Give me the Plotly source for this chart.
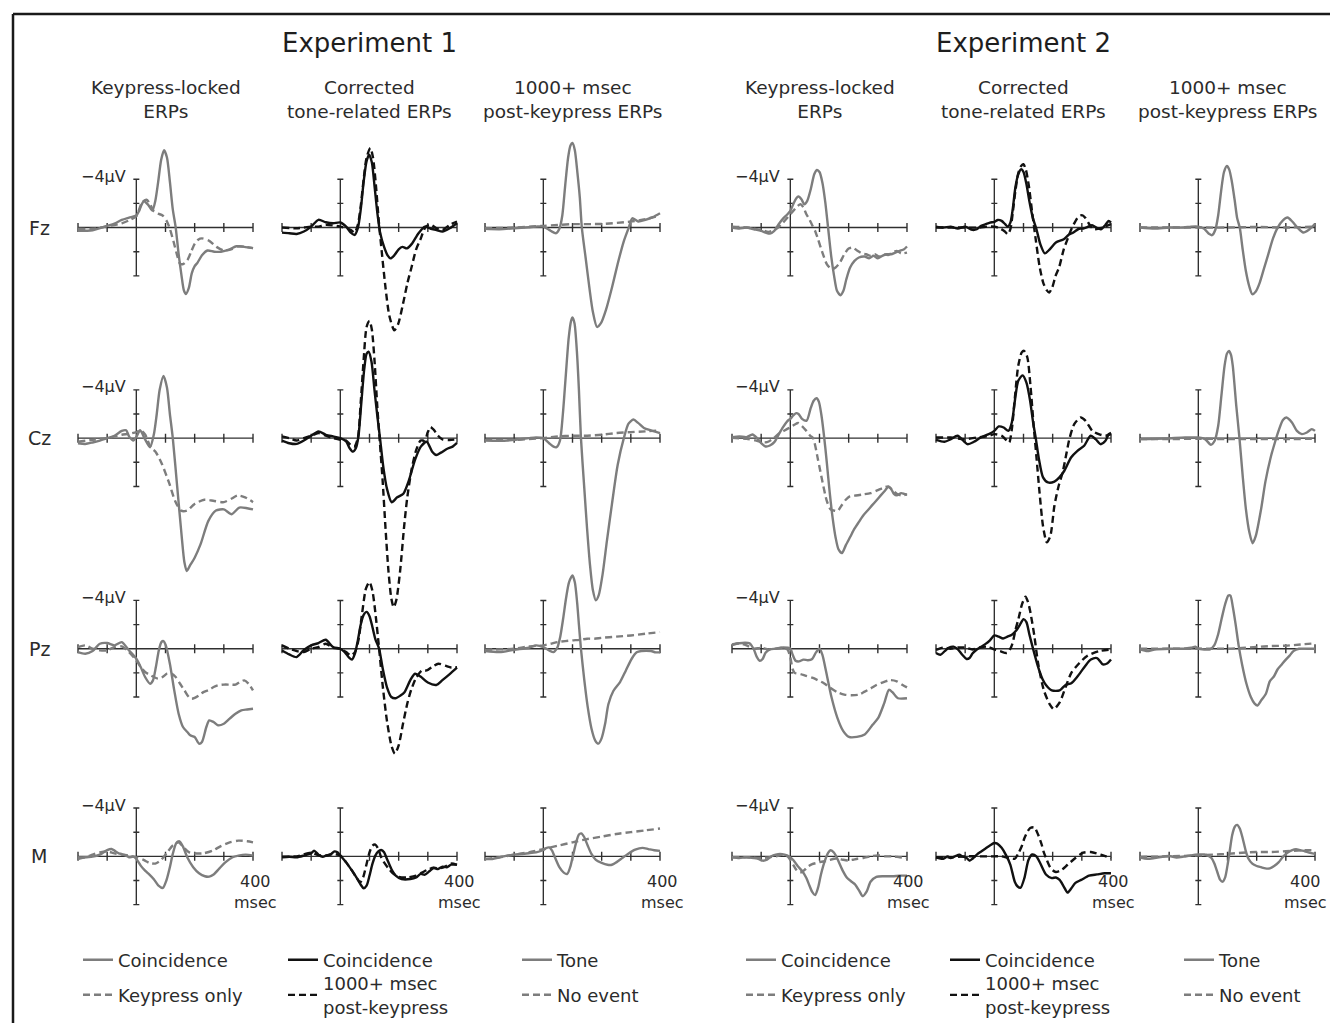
import plotly.graph_objects as go

# ---------------- data: (msec, microvolts); negative is plotted upward ----------------
# Experiment 1 - keypress-locked ERPs
E1_KEY_FZ_COIN = [(-200,0.27),(-150,0.22),(-100,-0.14),(-75,-0.33),(-50,-0.63),(-25,-0.82),(0,-1.0),(10,-1.4),(18,-1.9),(26,-2.18),(40,-1.9),(55,-1.41),(65,-2.2),(75,-3.8),(85,-5.6),(95,-6.4),(105,-5.8),(115,-3.8),(125,-1.5),(135,0.0),(145,2.2),(155,4.0),(163,5.2),(170,5.5),(180,5.0),(190,3.8),(200,3.2),(210,2.9),(225,2.3),(244,1.9),(267,2.0),(290,2.0),(320,1.8),(343,1.55),(370,1.6),(400,1.7)]
E1_KEY_FZ_KEY = [(-200,0.1),(-150,0.1),(-100,-0.1),(-50,-0.35),(-25,-0.6),(0,-0.95),(20,-2.1),(35,-2.3),(48,-1.9),(60,-1.35),(75,-1.15),(90,-1.0),(105,-0.5),(115,0.1),(128,1.2),(140,2.3),(150,3.0),(162,3.0),(175,2.7),(188,2.0),(200,1.35),(212,1.0),(225,0.9),(250,1.1),(275,1.6),(300,1.9),(325,1.8),(350,1.55),(375,1.6),(400,1.7)]
E1_KEY_CZ_COIN = [(-200,0.42),(-175,0.48),(-150,0.36),(-125,0.2),(-100,0.0),(-75,-0.2),(-50,-0.6),(-35,-0.65),(-25,-0.15),(-10,0.2),(0,-0.1),(13,-0.65),(30,0.1),(47,0.75),(60,-0.3),(70,-2.0),(80,-4.0),(93,-5.15),(105,-4.2),(115,-2.0),(125,0.0),(140,4.0),(155,8.0),(165,10.3),(173,11.0),(185,10.5),(200,9.9),(220,8.8),(247,6.85),(273,6.0),(300,5.9),(327,6.3),(353,5.75),(380,5.8),(400,5.9)]
E1_KEY_CZ_KEY = [(-200,0.3),(-150,0.14),(-100,0.0),(-75,-0.14),(-50,-0.28),(-25,-0.36),(0,-0.5),(15,-0.65),(30,-0.3),(50,0.8),(65,1.1),(87,2.1),(113,3.75),(133,5.2),(153,6.0),(173,6.0),(200,5.45),(233,5.1),(267,5.2),(300,5.3),(327,5.0),(347,4.75),(373,4.9),(400,5.3)]
E1_KEY_PZ_COIN = [(-200,0.28),(-175,0.41),(-150,0.19),(-125,-0.41),(-100,-0.47),(-75,-0.28),(-50,-0.55),(-25,0.14),(0,0.83),(15,1.52),(30,2.34),(47,2.9),(57,2.62),(67,1.52),(77,0.14),(86,-0.55),(93,-0.63),(101,-0.28),(115,1.24),(130,3.45),(145,5.38),(160,6.48),(175,6.9),(185,7.17),(200,7.31),(215,7.86),(225,7.72),(240,6.48),(250,5.93),(265,6.07),(280,6.34),(300,6.21),(320,5.79),(340,5.38),(360,5.1),(380,5.03),(400,4.97)]
E1_KEY_PZ_KEY = [(-200,-0.14),(-175,-0.28),(-150,0.0),(-125,0.14),(-100,0.14),(-75,-0.14),(-50,-0.19),(-25,0.28),(0,0.97),(15,1.52),(30,1.93),(45,2.14),(60,2.34),(75,2.48),(90,2.34),(105,2.07),(120,2.07),(135,2.34),(150,2.9),(165,3.45),(180,4.0),(190,4.14),(200,4.07),(215,3.86),(230,3.59),(250,3.4),(265,3.17),(280,3.03),(300,2.97),(320,2.97),(340,2.97),(355,2.76),(370,2.62),(385,2.9),(400,3.45)]
E1_KEY_M_COIN = [(-200,0.22),(-175,0.08),(-150,0.03),(-125,-0.14),(-100,-0.52),(-85,-0.61),(-75,-0.47),(-60,-0.25),(-50,-0.19),(-35,-0.06),(-25,0.08),(-10,0.03),(0,0.22),(15,0.77),(30,1.19),(45,1.52),(60,1.9),(75,2.4),(91,2.62),(103,2.0),(115,0.9),(125,-0.2),(137,-1.1),(148,-1.24),(160,-0.8),(175,0.1),(195,0.9),(215,1.4),(235,1.65),(250,1.68),(265,1.5),(285,1.0),(305,0.5),(330,0.08),(350,-0.06),(375,-0.14),(400,-0.06)]
E1_KEY_M_KEY = [(-200,0.08),(-175,0.08),(-150,-0.14),(-125,-0.33),(-100,-0.41),(-75,-0.25),(-50,-0.14),(-25,-0.06),(0,0.08),(25,0.3),(45,0.55),(65,0.6),(85,0.3),(105,-0.3),(125,-0.9),(145,-1.16),(160,-0.8),(180,-0.35),(200,-0.25),(230,-0.25),(260,-0.45),(290,-0.85),(320,-1.15),(350,-1.3),(380,-1.25),(400,-1.16)]

# Experiment 1 - corrected tone-related ERPs
E1_COR_FZ_COIN = [(-200,0.42),(-175,0.47),(-150,0.53),(-125,0.33),(-100,-0.08),(-75,-0.64),(-50,-0.44),(-25,-0.36),(0,-0.42),(20,-0.08),(35,0.4),(49,0.61),(60,0.05),(70,-1.5),(80,-3.8),(90,-5.5),(99,-6.04),(108,-5.4),(117,-3.5),(127,-1.2),(137,0.5),(150,1.6),(162,2.3),(172,2.55),(185,2.3),(200,1.8),(213,1.6),(228,1.72),(245,1.35),(268,0.47),(290,-0.08),(310,0.1),(330,0.2),(350,0.33),(375,0.06),(400,-0.36)]
E1_COR_FZ_POST = [(-200,0.0),(-150,0.06),(-100,-0.08),(-75,-0.08),(-50,-0.22),(0,-0.08),(35,0.19),(49,0.42),(60,-0.22),(70,-1.8),(80,-4.0),(90,-5.8),(103,-6.59),(112,-5.8),(122,-3.5),(132,-0.5),(142,2.0),(155,5.0),(168,7.3),(185,8.5),(198,8.0),(215,6.3),(230,4.6),(245,3.2),(260,1.8),(274,1.02),(293,-0.08),(310,-0.22),(330,0.06),(350,0.19),(375,-0.22),(400,-0.5)]
E1_COR_CZ_COIN = [(-200,0.2),(-175,0.42),(-150,0.48),(-125,0.2),(-100,-0.2),(-75,-0.56),(-50,-0.28),(-25,-0.14),(0,0.0),(20,0.28),(32,0.84),(43,1.12),(53,0.84),(62,-0.14),(72,-2.94),(82,-5.73),(90,-6.99),(97,-7.16),(107,-6.3),(117,-4.0),(127,-1.8),(136,0.0),(148,2.5),(160,4.2),(176,5.31),(195,4.9),(216,4.6),(235,3.5),(256,1.8),(276,0.7),(296,0.3),(315,1.12),(329,1.4),(345,1.2),(365,0.9),(385,0.7),(400,0.4)]
E1_COR_CZ_POST = [(-200,-0.14),(-175,0.0),(-150,0.2),(-125,0.0),(-100,-0.2),(-75,-0.42),(-50,-0.2),(-25,0.0),(0,0.14),(20,0.2),(35,0.56),(48,0.7),(60,0.0),(70,-3.0),(80,-6.5),(90,-9.2),(100,-9.71),(108,-9.0),(117,-6.5),(127,-2.5),(136,0.5),(145,3.5),(155,7.5),(165,11.0),(175,13.3),(183,14.0),(192,13.4),(205,11.0),(218,7.5),(229,5.0),(245,2.5),(260,1.0),(275,0.2),(289,0.2),(300,-0.5),(309,-0.92),(320,-0.7),(335,-0.2),(350,0.1),(375,0.15),(400,0.1)]
E1_COR_PZ_COIN = [(-200,0.14),(-175,0.47),(-150,0.69),(-125,0.1),(-100,-0.28),(-75,-0.47),(-50,-0.74),(-25,-0.14),(0,0.0),(15,0.28),(30,0.74),(40,0.9),(50,0.41),(60,-0.69),(70,-2.0),(80,-2.8),(90,-3.05),(100,-2.7),(110,-1.8),(120,-0.8),(133,0.0),(145,1.6),(160,3.2),(175,4.0),(190,4.1),(205,3.9),(220,3.6),(240,2.6),(256,2.07),(275,2.3),(300,2.8),(329,3.0),(350,2.6),(375,2.1),(400,1.57)]
E1_COR_PZ_POST = [(-200,-0.28),(-175,0.0),(-150,0.19),(-125,0.28),(-100,0.0),(-75,-0.14),(-50,-0.41),(-25,-0.08),(0,0.0),(20,0.28),(35,0.55),(50,0.28),(62,-0.7),(75,-3.0),(88,-5.0),(100,-5.52),(110,-4.8),(120,-3.0),(133,0.0),(145,3.0),(160,6.0),(175,8.0),(187,8.69),(200,8.0),(215,6.2),(230,4.5),(243,3.4),(260,2.4),(280,1.8),(296,1.8),(315,1.5),(336,1.24),(360,1.4),(380,1.55),(400,1.52)]
E1_COR_M_COIN = [(-200,0.08),(-175,0.03),(-150,0.08),(-125,-0.06),(-100,-0.25),(-90,-0.47),(-75,-0.14),(-60,0.03),(-50,-0.06),(-35,-0.14),(-20,-0.41),(-10,-0.33),(0,-0.06),(20,0.5),(40,1.19),(55,1.74),(70,2.35),(80,2.65),(90,2.43),(100,1.6),(110,0.63),(120,-0.06),(130,-0.41),(140,-0.52),(150,-0.33),(160,0.22),(175,1.05),(190,1.6),(210,1.88),(240,1.88),(260,1.74),(275,1.46),(290,1.52),(305,1.24),(320,0.97),(335,1.05),(350,0.85),(365,0.91),(380,0.69),(400,0.69)]
E1_COR_M_POST = [(-200,0.03),(-150,0.0),(-100,-0.3),(-75,-0.1),(-50,-0.06),(-25,-0.2),(0,-0.06),(20,0.5),(40,1.19),(55,1.74),(68,2.15),(78,1.74),(90,0.63),(100,-0.33),(110,-0.88),(120,-0.97),(130,-0.61),(140,0.08),(150,0.5),(165,1.0),(180,1.4),(200,1.7),(230,1.75),(260,1.6),(280,1.35),(300,1.1),(320,0.95),(340,1.0),(360,0.85),(380,0.6),(400,0.7)]

# Experiment 1 - 1000+ msec post-keypress ERPs
E1_POST_FZ_TONE = [(-200,0.11),(-150,0.14),(-100,0.06),(-50,-0.03),(-25,-0.08),(0,-0.08),(20,0.19),(35,0.4),(44,0.47),(55,0.1),(65,-1.0),(75,-3.5),(85,-5.8),(93,-6.8),(100,-7.0),(108,-6.4),(117,-4.5),(125,-2.5),(132,0.0),(145,2.5),(158,5.0),(170,7.0),(184,8.23),(198,7.9),(215,6.8),(235,5.0),(255,3.0),(275,1.2),(293,0.0),(305,-0.77),(325,-0.5),(350,-0.64),(375,-0.86),(400,-1.19)]
E1_POST_FZ_NOEV = [(-200,0.06),(-100,0.0),(0,-0.14),(100,-0.28),(200,-0.3),(300,-0.5),(350,-0.7),(400,-1.0)]
E1_POST_CZ_TONE = [(-200,0.2),(-150,0.22),(-100,0.14),(-50,0.0),(-25,-0.06),(0,0.0),(20,0.42),(35,0.7),(45,0.75),(57,0.2),(67,-2.0),(77,-5.2),(87,-8.3),(95,-9.7),(100,-9.99),(107,-9.5),(115,-7.2),(122,-4.0),(129,0.0),(140,4.0),(150,7.5),(160,10.5),(170,12.6),(180,13.43),(190,13.0),(203,11.3),(218,8.5),(235,5.5),(255,2.2),(276,0.0),(292,-1.2),(309,-1.54),(325,-1.26),(345,-0.84),(369,-0.64),(400,-0.42)]
E1_POST_CZ_NOEV = [(-200,0.14),(-100,0.14),(0,0.0),(50,-0.14),(100,-0.2),(150,-0.2),(200,-0.28),(250,-0.42),(300,-0.5),(350,-0.56),(400,-0.65)]
E1_POST_PZ_TONE = [(-200,0.19),(-150,0.28),(-100,0.08),(-50,-0.08),(-25,-0.28),(0,-0.14),(20,0.14),(35,0.28),(48,-0.1),(58,-1.0),(68,-2.5),(78,-4.2),(88,-5.5),(100,-6.07),(108,-5.5),(116,-3.8),(122,-2.0),(129,0.0),(140,2.5),(152,4.8),(165,6.6),(178,7.6),(189,7.86),(200,7.4),(212,6.2),(223,4.6),(240,3.5),(263,2.76),(283,1.8),(303,0.83),(320,0.3),(336,0.19),(369,0.19),(385,0.3),(400,0.3)]
E1_POST_PZ_NOEV = [(-200,0.08),(-100,0.0),(-50,-0.19),(0,-0.28),(25,-0.41),(50,-0.55),(75,-0.63),(100,-0.69),(125,-0.74),(150,-0.83),(175,-0.83),(200,-0.9),(250,-1.0),(300,-1.1),(350,-1.24),(400,-1.38)]
E1_POST_M_TONE = [(-200,0.22),(-175,0.22),(-150,0.08),(-125,-0.06),(-100,-0.14),(-75,-0.19),(-50,-0.25),(-25,-0.33),(0,-0.52),(10,-0.69),(20,-0.74),(30,-0.47),(40,0.1),(55,0.9),(70,1.35),(82,1.46),(92,0.9),(102,-0.1),(112,-1.1),(122,-1.8),(130,-1.9),(140,-1.6),(152,-0.9),(165,-0.2),(180,0.3),(200,0.55),(220,0.7),(235,0.7),(250,0.5),(270,0.15),(290,-0.2),(315,-0.55),(340,-0.7),(360,-0.6),(380,-0.5),(400,-0.45)]
E1_POST_M_NOEV = [(-200,0.22),(-150,0.08),(-100,-0.14),(-50,-0.33),(0,-0.6),(50,-0.88),(100,-1.16),(150,-1.43),(200,-1.63),(250,-1.85),(300,-2.0),(350,-2.15),(400,-2.3)]

# Experiment 2 - keypress-locked ERPs
E2_KEY_FZ_COIN = [(-200,0.0),(-175,0.08),(-150,0.0),(-125,0.14),(-100,0.28),(-85,0.41),(-70,0.5),(-55,0.28),(-40,-0.28),(-25,-0.74),(-10,-1.1),(0,-1.38),(10,-1.93),(20,-2.41),(28,-2.57),(38,-2.34),(48,-1.93),(58,-2.21),(70,-3.17),(82,-4.41),(91,-4.77),(100,-4.6),(110,-3.72),(120,-2.07),(130,0.14),(140,2.34),(150,4.0),(160,5.24),(172,5.6),(182,5.24),(192,4.28),(205,3.31),(220,2.76),(235,2.48),(255,2.4),(270,2.55),(285,2.34),(300,2.55),(315,2.34),(330,2.21),(345,2.21),(360,2.07),(375,1.93),(390,1.79),(400,1.57)]
E2_KEY_FZ_KEY = [(-200,-0.08),(-150,0.0),(-100,0.19),(-75,0.36),(-50,0.14),(-25,-0.41),(0,-1.1),(15,-1.52),(25,-1.79),(35,-1.93),(45,-1.66),(55,-1.1),(65,-0.69),(75,-0.19),(85,0.28),(95,0.97),(110,2.07),(125,3.03),(135,3.31),(145,3.45),(155,3.31),(170,2.9),(185,2.21),(200,1.74),(215,1.66),(230,1.93),(245,2.14),(260,2.21),(275,2.34),(290,2.21),(305,2.41),(320,2.21),(335,2.28),(350,2.07),(365,1.93),(380,2.14),(400,2.07)]
E2_KEY_CZ_COIN = [(-200,-0.08),(-175,-0.14),(-150,-0.08),(-130,-0.3),(-115,-0.03),(-100,0.41),(-85,0.69),(-70,0.61),(-55,0.33),(-40,-0.3),(-25,-0.91),(-10,-1.41),(0,-1.6),(10,-1.88),(20,-2.07),(28,-2.0),(40,-1.6),(56,-1.45),(70,-2.5),(80,-3.1),(90,-3.3),(98,-3.0),(106,-2.0),(115,-0.3),(125,2.0),(135,4.5),(145,6.6),(155,8.2),(165,9.2),(177,9.52),(190,8.88),(205,8.19),(220,7.5),(235,6.94),(250,6.4),(265,5.99),(280,5.57),(295,5.16),(310,4.74),(325,4.33),(335,4.05),(345,4.19),(355,4.61),(365,4.74),(380,4.55),(390,4.61),(400,4.69)]
E2_KEY_CZ_KEY = [(-200,-0.03),(-150,0.06),(-120,0.19),(-100,0.33),(-80,0.33),(-60,0.06),(-40,-0.36),(-20,-0.63),(0,-0.91),(15,-1.13),(27,-1.25),(40,-1.0),(55,-0.6),(68,-0.2),(78,0.0),(95,1.8),(110,3.6),(125,5.2),(138,5.9),(150,6.0),(162,6.04),(175,5.6),(190,5.1),(205,4.8),(225,4.75),(250,4.66),(275,4.55),(300,4.3),(320,4.1),(336,4.0),(350,4.3),(365,4.6),(380,4.74),(400,4.66)]
E2_KEY_PZ_COIN = [(-200,-0.3),(-175,-0.45),(-155,-0.5),(-140,-0.45),(-125,0.06),(-115,0.68),(-105,1.0),(-95,0.85),(-85,0.34),(-70,0.06),(-50,0.0),(-25,-0.1),(0,0.0),(8,0.5),(18,1.0),(30,1.05),(45,0.9),(60,0.95),(75,0.85),(88,0.3),(100,0.0),(110,0.5),(121,1.7),(141,4.0),(161,5.7),(181,6.8),(201,7.3),(228,7.3),(255,7.1),(282,6.3),(302,5.7),(322,4.5),(338,3.4),(350,3.6),(369,4.1),(400,4.1)]
E2_KEY_PZ_KEY = [(-200,-0.35),(-175,-0.45),(-150,-0.28),(-125,0.0),(-100,-0.08),(-75,0.06),(-50,0.0),(-25,-0.08),(-10,0.06),(0,0.7),(8,1.7),(15,2.0),(35,2.1),(54,2.25),(75,2.4),(94,2.6),(115,2.85),(135,3.2),(161,3.6),(185,3.8),(210,3.85),(235,3.8),(255,3.55),(275,3.3),(295,3.0),(315,2.8),(342,2.6),(365,2.7),(385,3.0),(400,3.2)]
E2_KEY_M_COIN = [(-200,0.08),(-175,0.14),(-150,0.08),(-125,0.14),(-110,0.2),(-95,0.36),(-80,0.28),(-65,0.0),(-50,-0.14),(-35,-0.2),(-20,-0.14),(-5,0.0),(10,0.3),(25,0.8),(40,1.2),(55,1.8),(65,2.4),(75,2.95),(85,3.2),(95,2.6),(105,1.5),(118,0.4),(130,-0.3),(138,-0.5),(150,-0.3),(165,0.4),(180,1.2),(195,1.8),(210,2.1),(221,2.3),(235,2.8),(248,3.3),(262,2.9),(275,2.1),(295,1.7),(320,1.65),(350,1.65),(375,1.6),(400,1.6)]
E2_KEY_M_KEY = [(-200,0.08),(-150,0.08),(-100,0.14),(-50,0.0),(-25,-0.14),(-10,0.0),(0,0.3),(10,0.7),(20,1.1),(30,1.3),(40,1.3),(50,1.1),(60,0.85),(75,0.65),(90,0.55),(105,0.45),(120,0.4),(135,0.3),(150,0.2),(165,0.2),(180,0.28),(200,0.35),(215,0.28),(230,0.2),(250,0.14),(275,0.0),(300,-0.08),(325,0.0),(350,0.0),(375,0.08),(400,0.14)]

# Experiment 2 - corrected tone-related ERPs
E2_COR_FZ_COIN = [(-200,-0.08),(-175,0.0),(-150,-0.08),(-125,0.08),(-100,-0.08),(-75,0.19),(-60,0.14),(-45,-0.14),(-30,-0.28),(-15,-0.41),(0,-0.47),(12,-0.63),(25,-0.55),(37,-0.28),(46,-0.08),(55,-0.41),(63,-1.5),(72,-3.3),(82,-4.4),(92,-4.83),(100,-4.6),(110,-3.6),(120,-2.2),(132,-0.8),(144,0.1),(158,1.4),(173,2.14),(190,1.8),(211,1.24),(238,0.97),(255,0.6),(271,0.41),(290,0.1),(305,0.08),(320,-0.05),(335,-0.19),(350,0.0),(365,0.14),(380,-0.19),(392,-0.55),(400,-0.41)]
E2_COR_FZ_POST = [(-200,0.0),(-150,0.0),(-100,0.0),(-50,0.0),(-25,-0.08),(0,-0.08),(20,0.08),(35,0.3),(46,0.55),(55,0.14),(63,-1.2),(72,-3.0),(82,-4.5),(92,-5.1),(100,-5.24),(108,-4.8),(118,-3.5),(130,-1.2),(142,1.0),(155,3.2),(168,4.6),(180,5.2),(188,5.38),(198,5.0),(210,4.0),(222,3.3),(238,1.8),(252,0.9),(264,0.14),(285,-0.8),(300,-1.03),(312,-0.8),(325,-0.3),(340,0.14),(360,0.08),(380,-0.08),(400,-0.28)]
E2_COR_CZ_COIN = [(-200,0.14),(-171,0.3),(-149,0.08),(-126,-0.2),(-92,0.5),(-70,0.3),(-47,-0.05),(-19,-0.33),(0,-0.6),(15,-0.97),(32,-0.88),(48,-0.6),(60,-1.3),(71,-3.2),(82,-4.75),(97,-5.2),(110,-4.6),(122,-3.2),(133,-1.3),(142,0.0),(153,1.74),(167,3.25),(184,3.67),(206,3.6),(223,3.25),(240,2.7),(263,1.6),(285,1.05),(308,0.63),(330,-0.2),(347,0.08),(364,0.5),(381,0.22),(392,-0.33),(400,-0.45)]
E2_COR_CZ_POST = [(-200,-0.05),(-149,-0.05),(-104,0.08),(-59,-0.05),(-19,-0.19),(0,-0.33),(26,-0.19),(43,0.22),(51,0.36),(60,-0.75),(71,-3.5),(82,-6.0),(94,-7.1),(102,-7.23),(113,-6.7),(124,-4.3),(135,-1.0),(144,1.46),(155,4.5),(167,7.3),(180,8.63),(192,8.1),(206,5.6),(220,4.0),(234,2.84),(247,1.3),(257,0.1),(274,-1.16),(296,-1.71),(313,-1.43),(336,-0.6),(358,-0.33),(381,-0.2),(400,-0.33)]
E2_COR_PZ_COIN = [(-200,0.35),(-185,0.5),(-170,0.2),(-155,-0.1),(-140,-0.17),(-125,0.05),(-110,0.5),(-95,0.85),(-85,0.77),(-75,0.4),(-60,0.06),(-45,-0.17),(-30,-0.4),(-15,-0.7),(0,-1.1),(15,-1.0),(30,-0.85),(45,-1.0),(60,-1.15),(75,-1.5),(88,-2.0),(100,-2.45),(110,-2.2),(120,-1.2),(135,0.2),(150,1.5),(165,2.5),(177,3.0),(197,3.45),(224,3.45),(244,3.0),(264,2.85),(285,2.3),(311,1.45),(331,0.9),(352,0.77),(372,1.3),(388,1.2),(400,0.9)]
E2_COR_PZ_POST = [(-200,0.1),(-175,-0.1),(-150,0.0),(-125,-0.1),(-100,-0.1),(-75,0.06),(-50,-0.1),(-25,-0.17),(0,0.06),(20,0.2),(43,0.35),(55,0.0),(63,-0.5),(73,-1.6),(83,-2.5),(95,-3.7),(107,-4.3),(115,-3.9),(123,-3.1),(137,-1.1),(150,1.2),(170,3.46),(190,4.6),(204,5.0),(224,4.45),(244,3.2),(264,2.0),(291,1.2),(318,0.6),(358,0.2),(400,0.06)]
E2_COR_M_COIN = [(-200,0.08),(-175,0.2),(-160,0.0),(-150,0.14),(-135,0.0),(-120,-0.14),(-110,0.0),(-95,0.14),(-85,0.36),(-75,0.2),(-60,-0.14),(-45,-0.4),(-30,-0.65),(-15,-0.9),(0,-1.1),(10,-1.05),(25,-0.7),(40,-0.1),(55,0.7),(70,2.1),(80,2.5),(90,2.6),(103,1.8),(117,0.3),(130,-0.15),(144,0.0),(157,0.55),(177,1.5),(197,1.8),(211,1.75),(224,1.95),(238,2.5),(251,3.0),(264,2.65),(278,2.2),(298,1.95),(325,1.6),(352,1.5),(378,1.4),(400,1.4)]
E2_COR_M_POST = [(-200,0.08),(-150,0.08),(-100,0.0),(-50,0.0),(0,0.0),(25,0.0),(50,0.14),(70,0.2),(83,-0.28),(95,-0.9),(103,-1.5),(115,-2.1),(123,-2.35),(137,-2.4),(150,-1.8),(162,-1.0),(170,-0.3),(180,0.3),(190,0.85),(200,1.15),(211,1.3),(231,1.12),(251,0.7),(278,0.14),(305,-0.3),(331,-0.36),(365,-0.14),(400,0.14)]

# Experiment 2 - 1000+ msec post-keypress ERPs
E2_POST_FZ_TONE = [(-200,0.0),(-150,0.08),(-100,0.0),(-50,0.0),(-25,-0.08),(0,-0.08),(20,0.1),(35,0.5),(47,0.63),(58,0.2),(68,-1.0),(78,-3.0),(88,-4.6),(98,-5.1),(106,-4.8),(115,-3.8),(125,-2.2),(133,-0.8),(142,0.0),(152,1.8),(163,3.6),(175,4.9),(185,5.52),(197,5.3),(210,4.6),(225,3.4),(240,2.2),(256,0.9),(272,0.0),(290,-0.6),(306,-0.83),(322,-0.5),(340,0.0),(360,0.41),(378,0.2),(392,-0.1),(400,-0.3)]
E2_POST_FZ_NOEV = [(-200,0.0),(-100,0.0),(0,0.0),(100,0.0),(200,-0.05),(300,0.0),(400,-0.08)]
E2_POST_CZ_TONE = [(-200,0.08),(-113,0.03),(-45,-0.05),(0,-0.05),(23,0.08),(43,0.55),(56,0.22),(68,-1.0),(79,-3.5),(90,-6.0),(98,-7.0),(105,-7.23),(112,-6.9),(118,-6.0),(130,-2.7),(141,0.0),(152,3.1),(163,5.85),(175,7.8),(186,8.7),(197,8.1),(215,5.9),(230,3.6),(248,1.6),(262,0.4),(275,-0.6),(290,-1.5),(302,-1.71),(321,-1.3),(338,-0.6),(355,-0.33),(372,-0.47),(389,-0.75),(400,-0.6)]
E2_POST_CZ_NOEV = [(-200,0.08),(-100,0.08),(0,0.05),(100,0.08),(200,0.08),(300,0.08),(400,0.05)]
E2_POST_PZ_TONE = [(-200,0.06),(-175,0.2),(-150,0.06),(-100,0.0),(-50,0.0),(-25,-0.08),(-10,-0.17),(0,0.0),(20,0.06),(40,0.06),(55,-0.3),(68,-1.2),(80,-2.5),(92,-3.7),(103,-4.4),(110,-4.4),(118,-3.5),(128,-2.0),(138,-0.3),(150,1.3),(165,2.9),(180,4.0),(193,4.55),(203,4.7),(215,4.3),(232,3.7),(245,2.7),(259,2.3),(272,1.7),(286,1.3),(300,0.9),(313,0.57),(326,0.2),(345,0.0),(375,0.0),(400,0.0)]
E2_POST_PZ_NOEV = [(-200,0.0),(-100,0.0),(0,0.0),(50,0.0),(100,0.0),(150,-0.06),(200,-0.15),(250,-0.22),(300,-0.25),(350,-0.35),(400,-0.45)]
E2_POST_M_TONE = [(-200,0.1),(-175,0.2),(-150,0.14),(-100,-0.03),(-75,0.1),(-50,0.03),(-25,-0.08),(0,-0.15),(20,-0.15),(35,-0.03),(45,0.14),(55,0.6),(65,1.3),(75,1.95),(83,2.1),(92,1.74),(100,0.75),(108,-0.5),(116,-1.75),(125,-2.45),(133,-2.6),(142,-2.3),(152,-1.5),(162,-0.5),(172,0.2),(185,0.6),(200,0.8),(215,0.9),(230,1.0),(245,1.0),(260,0.8),(275,0.5),(290,0.05),(305,-0.3),(320,-0.5),(335,-0.6),(350,-0.5),(365,-0.42),(380,-0.3),(400,-0.2)]
E2_POST_M_NOEV = [(-200,0.05),(-100,0.0),(0,-0.08),(50,-0.14),(100,-0.2),(150,-0.3),(200,-0.36),(250,-0.36),(300,-0.42),(350,-0.5),(400,-0.5)]

# labels / ticks
TIME_TICKS = [-200, -100, 0, 100, 200, 300, 400]
VOLT_TICKS = [-4, -2, 0, 2, 4]
ROW_LABELS = ["Fz", "Cz", "Pz", "M"]
EXPERIMENT_TITLES = ["Experiment 1", "Experiment 2"]
COLUMN_TITLES = ["Keypress-locked<br>ERPs", "Corrected<br>tone-related ERPs", "1000+ msec<br>post-keypress ERPs"]
SERIES_NAMES = [("Coincidence", "Keypress only"),
                ("Coincidence", "1000+ msec<br>post-keypress"),
                ("Tone", "No event")]

# panel table: rows (Fz, Cz, Pz, M) x columns (E1 key, E1 cor, E1 post, E2 key, E2 cor, E2 post)
PANELS = [
    [(E1_KEY_FZ_COIN, E1_KEY_FZ_KEY), (E1_COR_FZ_COIN, E1_COR_FZ_POST), (E1_POST_FZ_TONE, E1_POST_FZ_NOEV),
     (E2_KEY_FZ_COIN, E2_KEY_FZ_KEY), (E2_COR_FZ_COIN, E2_COR_FZ_POST), (E2_POST_FZ_TONE, E2_POST_FZ_NOEV)],
    [(E1_KEY_CZ_COIN, E1_KEY_CZ_KEY), (E1_COR_CZ_COIN, E1_COR_CZ_POST), (E1_POST_CZ_TONE, E1_POST_CZ_NOEV),
     (E2_KEY_CZ_COIN, E2_KEY_CZ_KEY), (E2_COR_CZ_COIN, E2_COR_CZ_POST), (E2_POST_CZ_TONE, E2_POST_CZ_NOEV)],
    [(E1_KEY_PZ_COIN, E1_KEY_PZ_KEY), (E1_COR_PZ_COIN, E1_COR_PZ_POST), (E1_POST_PZ_TONE, E1_POST_PZ_NOEV),
     (E2_KEY_PZ_COIN, E2_KEY_PZ_KEY), (E2_COR_PZ_COIN, E2_COR_PZ_POST), (E2_POST_PZ_TONE, E2_POST_PZ_NOEV)],
    [(E1_KEY_M_COIN, E1_KEY_M_KEY), (E1_COR_M_COIN, E1_COR_M_POST), (E1_POST_M_TONE, E1_POST_M_NOEV),
     (E2_KEY_M_COIN, E2_KEY_M_KEY), (E2_COR_M_COIN, E2_COR_M_POST), (E2_POST_M_TONE, E2_POST_M_NOEV)],
]

# ---------------- geometry & style ----------------
W, H = 1330, 1025
COL_LEFT = [78, 282, 485, 732, 936, 1140]      # px of t=-200
COL_W = 175                                     # px from -200 to 400 msec
ROW_ZERO = [228, 439, 650, 858]                 # px of 0 µV
PX_PER_UV = 12.1
T0, T1 = TIME_TICKS[0], TIME_TICKS[-1]
PX_PER_MS = COL_W / (T1 - T0)
PAD_MS = 15
LEGEND_X = [78, 283, 517, 741, 945, 1179]
LEGEND_Y = [962, 997]
RIGHT_EDGE = 1329

FONT = "DejaVu Sans"
TEXT_COLOR = "#2b2b2b"
AXIS_COLOR = "#303030"
GRAY = "#7d7d7d"
BLACK = "#111111"
DASH = "7px,4px"


def px_x(p):
    return p / W


def px_y(p):
    return 1 - p / H


fig = go.Figure()
layout = dict(width=W, height=H, margin=dict(l=0, r=0, t=0, b=0),
              paper_bgcolor="white", plot_bgcolor="rgba(0,0,0,0)",
              hovermode=False, showlegend=True)
shapes, annotations = [], []

tick_h = 4.5 / PX_PER_UV
tick_w = 3.0 / PX_PER_MS
msec_font = dict(family=FONT, size=16, color=TEXT_COLOR)

for r, row in enumerate(PANELS):
    for c, (solid, dashed) in enumerate(row):
        n = r * 6 + c + 1
        sfx = "" if n == 1 else str(n)
        kind = c % 3
        color = BLACK if kind == 1 else GRAY
        values = [v for _, v in solid] + [v for _, v in dashed]
        up = max(-min(values), 4) * PX_PER_UV + 14
        down = max(max(values), 4) * PX_PER_UV + 14
        zero = ROW_ZERO[r]
        top = zero - up
        bottom = min(zero + down, H)
        down = bottom - zero
        xl = COL_LEFT[c] - PAD_MS * PX_PER_MS
        xr = COL_LEFT[c] + COL_W + PAD_MS * PX_PER_MS
        layout["xaxis" + sfx] = dict(domain=[px_x(xl), px_x(xr)], range=[T0 - PAD_MS, T1 + PAD_MS],
                                     visible=False, fixedrange=True, anchor="y" + sfx)
        layout["yaxis" + sfx] = dict(domain=[px_y(bottom), px_y(top)],
                                     range=[down / PX_PER_UV, -up / PX_PER_UV],
                                     visible=False, fixedrange=True, anchor="x" + sfx)

        # axis cross with ticks
        path = f"M {T0},0 L {T1},0 "
        path += "".join(f"M {t},{-tick_h} L {t},{tick_h} " for t in TIME_TICKS)
        path += f"M 0,{VOLT_TICKS[0]} L 0,{VOLT_TICKS[-1]} "
        path += "".join(f"M {-tick_w},{v} L {tick_w},{v} " for v in VOLT_TICKS if v != 0)
        shapes.append(dict(type="path", path=path, xref="x" + sfx, yref="y" + sfx,
                           line=dict(color=AXIS_COLOR, width=1.4), layer="below"))

        for s, (series, dash) in enumerate(((solid, "solid"), (dashed, DASH))):
            leg_idx = c * 2 + s
            leg_id = "legend" if leg_idx == 0 else f"legend{leg_idx + 1}"
            fig.add_trace(go.Scatter(
                x=[t for t, _ in series], y=[v for _, v in series],
                mode="lines", xaxis="x" + sfx, yaxis="y" + sfx,
                line=dict(color=color, width=2.4, dash=dash, shape="spline", smoothing=0.7),
                name=SERIES_NAMES[kind][s], showlegend=(r == 0), legend=leg_id,
                hoverinfo="skip"))

        if kind == 0:
            annotations.append(dict(text="\u22124\u03bcV", x=0, y=VOLT_TICKS[0], xref="x" + sfx, yref="y" + sfx,
                                    xanchor="right", yanchor="middle", xshift=-8, yshift=3, showarrow=False,
                                    font=dict(family=FONT, size=16, color=TEXT_COLOR)))
        if r == len(PANELS) - 1:
            center_px = COL_LEFT[c] + COL_W + 2
            if center_px + 24 > RIGHT_EDGE:
                annotations.append(dict(text=f"{T1}<br>msec", x=px_x(RIGHT_EDGE), y=px_y(zero + 36),
                                        xref="paper", yref="paper", xanchor="right", yanchor="middle",
                                        showarrow=False, font=msec_font))
            else:
                annotations.append(dict(text=f"{T1}<br>msec", x=T1, y=0, xref="x" + sfx, yref="y" + sfx,
                                        xanchor="center", yanchor="middle", xshift=2, yshift=-36,
                                        showarrow=False, font=msec_font))

# legends
for c in range(6):
    for s in range(2):
        leg_idx = c * 2 + s
        leg_id = "legend" if leg_idx == 0 else f"legend{leg_idx + 1}"
        layout[leg_id] = dict(x=px_x(LEGEND_X[c]), y=px_y(LEGEND_Y[s]), xanchor="left", yanchor="middle",
                              bgcolor="rgba(0,0,0,0)", borderwidth=0, itemwidth=30,
                              font=dict(family=FONT, size=18, color=TEXT_COLOR))

# titles
for e, title in enumerate(EXPERIMENT_TITLES):
    left = COL_LEFT[e * 3]
    right = COL_LEFT[e * 3 + 2] + COL_W
    annotations.append(dict(text=title, x=px_x((left + right) / 2), y=px_y(43), xref="paper", yref="paper",
                            xanchor="center", yanchor="middle", showarrow=False,
                            font=dict(family=FONT, size=26, color="#1e1e1e")))
for c in range(6):
    annotations.append(dict(text=COLUMN_TITLES[c % 3], x=px_x(COL_LEFT[c] + COL_W / 2), y=px_y(99.5),
                            xref="paper", yref="paper", xanchor="center", yanchor="middle", showarrow=False,
                            font=dict(family=FONT, size=18.5, color=TEXT_COLOR)))
for r, lab in enumerate(ROW_LABELS):
    annotations.append(dict(text=lab, x=px_x(39), y=px_y(ROW_ZERO[r]), xref="paper", yref="paper",
                            xanchor="center", yanchor="middle", showarrow=False,
                            font=dict(family=FONT, size=19, color=TEXT_COLOR)))

# frame (top and left edges visible)
shapes.append(dict(type="line", xref="paper", yref="paper", x0=px_x(13), x1=1, y0=px_y(14), y1=px_y(14),
                   line=dict(color="#1a1a1a", width=2.5)))
shapes.append(dict(type="line", xref="paper", yref="paper", x0=px_x(13), x1=px_x(13), y0=0, y1=px_y(14),
                   line=dict(color="#1a1a1a", width=2.5)))

layout["shapes"] = shapes
layout["annotations"] = annotations
fig.update_layout(**layout)
fig.write_html("out.html")
